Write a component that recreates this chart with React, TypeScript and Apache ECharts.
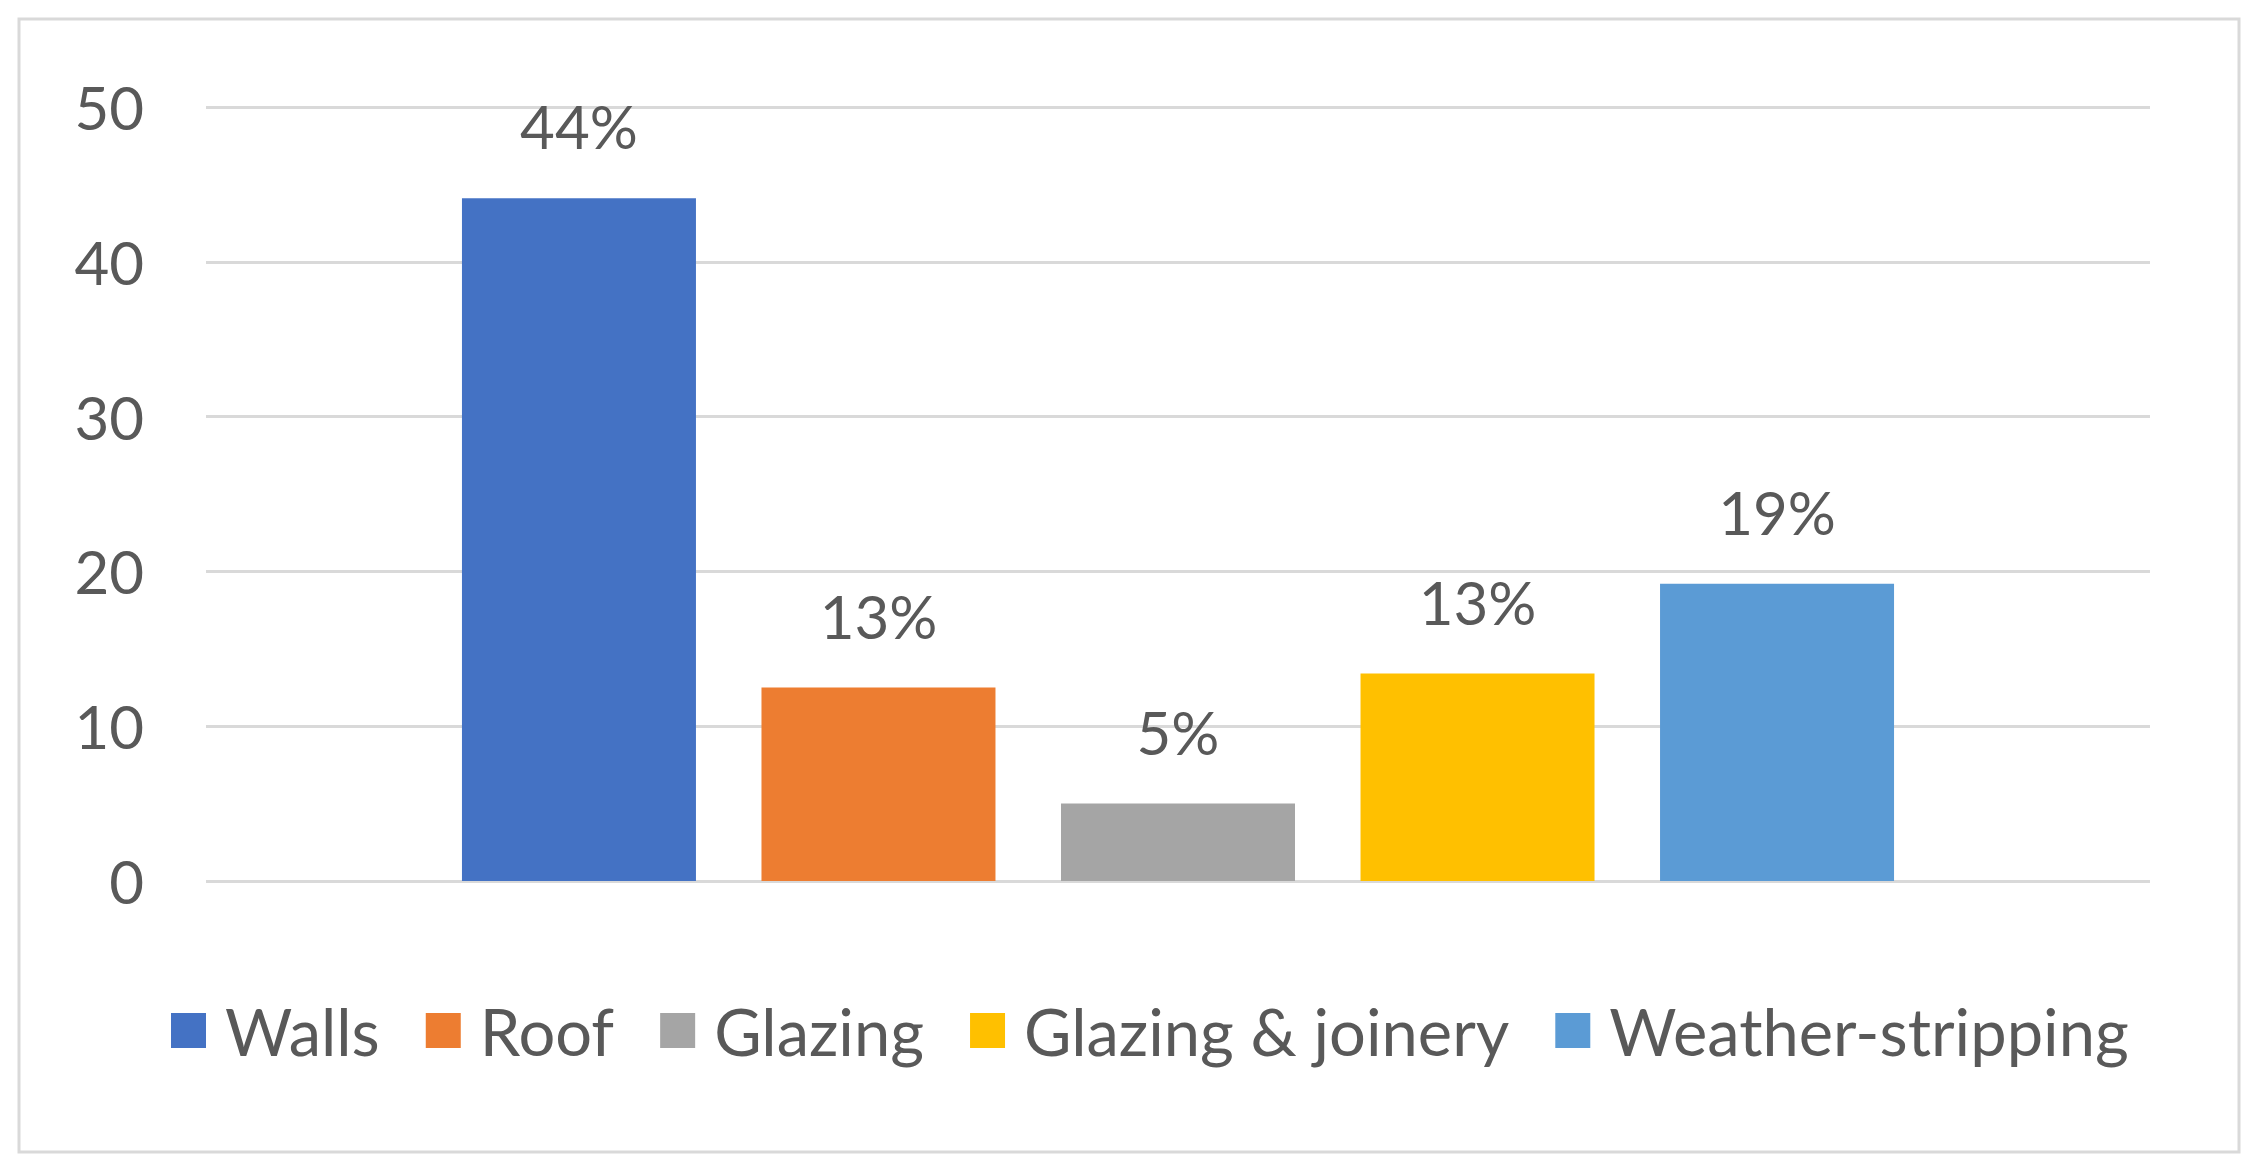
import React, { useEffect, useRef } from "react";
import * as echarts from "echarts";

const categories = ["Walls", "Roof", "Glazing", "Glazing & joinery", "Weather-stripping"];
const values = [44.1, 12.5, 5.0, 13.4, 19.2];
const valueLabels = ["44%", "13%", "5%", "13%", "19%"];
const colors = ["#4472C4", "#ED7D31", "#A5A5A5", "#FFC000", "#5B9BD5"];
const yMin = 0;
const yMax = 50;
const yInterval = 10;

const FONT = "Lato";
const TEXT = "#595959";
const GRID = "#D9D9D9";

export default function App() {
  const ref = useRef<HTMLDivElement>(null);
  useEffect(() => {
    if (!ref.current) return;
    const chart = echarts.init(ref.current, undefined, { renderer: "svg" });
    chart.setOption({
      animation: false,
      backgroundColor: "#ffffff",
      textStyle: { fontFamily: FONT },
      grid: { left: 206, right: 108, top: 107, bottom: 291, containLabel: false },
      graphic: [
        {
          type: "rect",
          shape: { x: 19, y: 19, width: 2220, height: 1133 },
          style: { fill: "none", stroke: GRID, lineWidth: 3 },
          silent: true,
        },
      ],
      legend: {
        data: categories,
        bottom: 104,
        left: 166,
        icon: "rect",
        itemWidth: 35,
        itemHeight: 35,
        itemGap: 46,
        selectedMode: false,
        textStyle: {
          fontFamily: FONT,
          fontSize: 65,
          color: TEXT,
          padding: [0, 0, 0, 14],
        },
      },
      xAxis: {
        type: "category",
        data: [""],
        axisLine: { show: false },
        axisTick: { show: false },
        axisLabel: { show: false },
      },
      yAxis: {
        type: "value",
        min: yMin,
        max: yMax,
        interval: yInterval,
        axisLine: { show: false },
        axisTick: { show: false },
        axisLabel: { fontFamily: FONT, fontSize: 60, color: TEXT, margin: 62 },
        splitLine: { lineStyle: { color: GRID, width: 3 } },
      },
      series: categories.map((name, i) => ({
        type: "bar",
        name,
        data: [values[i]],
        barWidth: 234,
        barGap: "28%",
        itemStyle: { color: colors[i] },
        emphasis: { disabled: true },
        label: {
          show: true,
          position: "top",
          distance: 42,
          formatter: valueLabels[i],
          fontFamily: FONT,
          fontSize: 60,
          color: TEXT,
        },
      })),
    });
    return () => chart.dispose();
  }, []);
  return (
    <div
      ref={ref}
      style={{ position: "fixed", left: 0, top: 0, width: 2258, height: 1172, background: "#fff" }}
    />
  );
}
